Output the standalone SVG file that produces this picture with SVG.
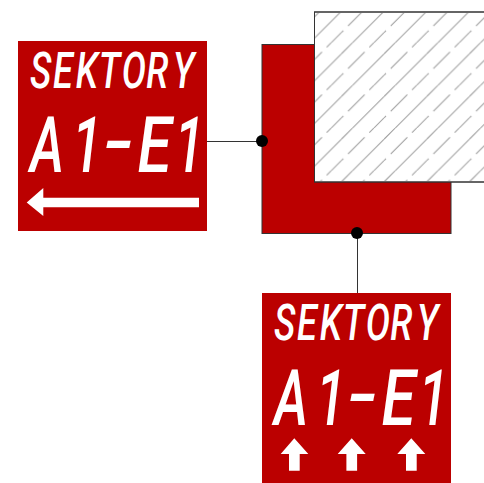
<svg xmlns="http://www.w3.org/2000/svg" width="484" height="483" viewBox="0 0 484 483">
<style>
.panel{fill:#bb0000}
.arrow{fill:#fff}
.lcd{fill:#fff;font-family:"Roboto","Liberation Sans",sans-serif;font-style:italic;font-weight:500}
.s{font-size:49px}
.b{font-size:78px}
.wire{stroke:#333;stroke-width:1;fill:none}
.dot{fill:#000}
.outline{stroke:#333;stroke-width:1}
</style>
<defs>
<pattern id="hatch" patternUnits="userSpaceOnUse" width="42.67" height="42.67">
<g stroke="#999" stroke-width="1" fill="none">
<path d="M11.24 0L0 11.24M42.67 11.24L11.24 42.67"/>
<path d="M2 30.6L0 32.6M23.3 9.3L6.7 25.9M32.6 0L28 4.6M42.67 32.6L32.6 42.67"/>
</g>
</pattern>
</defs>
<g id="wall">
<rect class="panel outline" x="262" y="44.5" width="189" height="189"/>
<rect class="outline" fill="#fff" x="314.5" y="12" width="170" height="170"/>
<rect class="outline" fill="url(#hatch)" x="314.5" y="12" width="170" height="170"/>
</g>
<g id="connectors">
<path class="wire" d="M207 141.500H262"/>
<path class="wire" d="M357.500 233V293"/>
<circle class="dot" cx="262" cy="141" r="6"/>
<circle class="dot" cx="357" cy="233" r="6"/>
</g>
<g id="sign-left">
<rect class="panel" x="18" y="41" width="189" height="190"/>
<text class="lcd s" transform="translate(30,88) scale(.74,1)" x="0 31 62 93 124 157 193">SEKTORY</text>
<text class="lcd b" transform="translate(30,172) scale(.68,1)"><tspan x="0">A</tspan><tspan x="62">1</tspan><tspan x="108" y="-4" textLength="44" lengthAdjust="spacingAndGlyphs">-</tspan><tspan x="158" y="0" textLength="50" lengthAdjust="spacingAndGlyphs">E</tspan><tspan x="213">1</tspan></text>
<path class="arrow" d="M26.700 202.500L43.300 188V197.700H199V207.300H43.300V216Z"/>
</g>
<g id="sign-bottom">
<rect class="panel" x="262" y="293" width="189" height="190"/>
<text class="lcd s" transform="translate(274,340) scale(.74,1)" x="0 31 62 93 124 157 193">SEKTORY</text>
<text class="lcd b" transform="translate(274,425) scale(.68,1)"><tspan x="0">A</tspan><tspan x="62">1</tspan><tspan x="108" y="-4" textLength="44" lengthAdjust="spacingAndGlyphs">-</tspan><tspan x="158" y="0" textLength="50" lengthAdjust="spacingAndGlyphs">E</tspan><tspan x="213">1</tspan></text>
<path class="arrow" d="M294.300 438.300L308.300 454H299.700V470.700H289V454H280.700Z"/>
<path class="arrow" d="M351.700 438.300L365.700 454H357.100V470.700H346.400V454H337.700Z"/>
<path class="arrow" d="M411.300 438.300L425.300 454H416.700V470.700H406V454H397.300Z"/>
</g>
</svg>
